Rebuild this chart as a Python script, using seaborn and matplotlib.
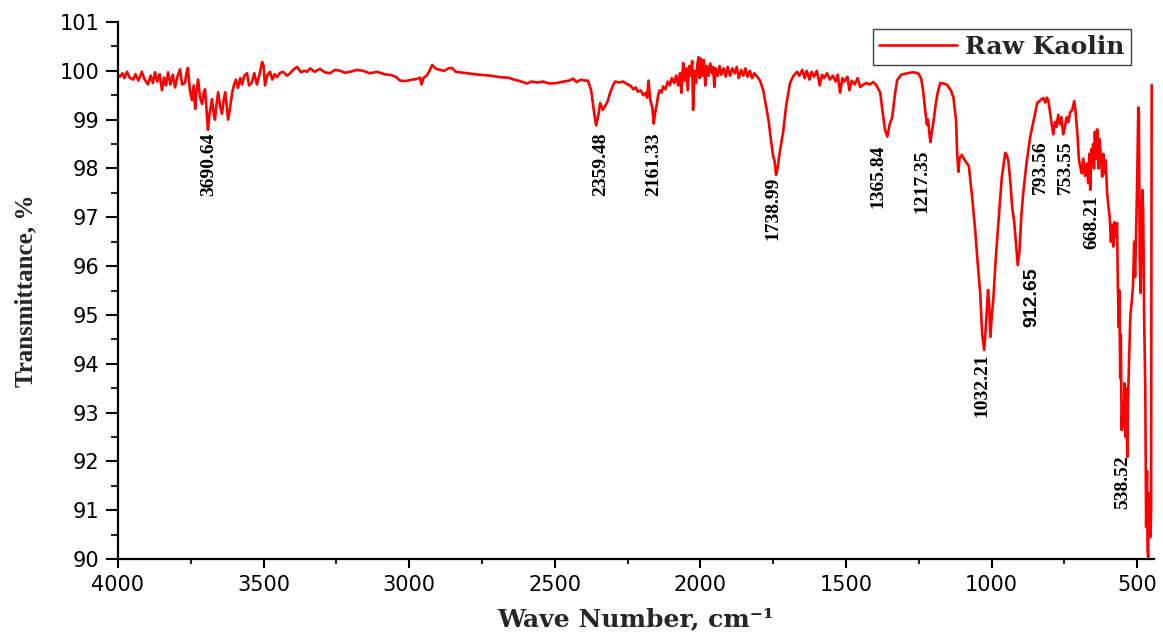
import matplotlib
matplotlib.use("Agg")
import matplotlib.pyplot as plt
import numpy as np
import pandas as pd
import seaborn as sns
from matplotlib.ticker import MultipleLocator

# ---------------- data ----------------
wavenumber = [
    4000, 3993, 3985, 3978, 3969, 3960, 3948, 3940, 3930, 3918, 3910, 3897, 3888, 3880,
    3873, 3865, 3857, 3849, 3842, 3835, 3828, 3820, 3812, 3804, 3796, 3787, 3780, 3770,
    3765, 3760, 3753, 3746, 3740, 3735, 3730, 3725, 3718, 3711, 3706, 3701, 3696, 3691,
    3686, 3682, 3677, 3672, 3667, 3662, 3656, 3650, 3643, 3637, 3632, 3627, 3622, 3616,
    3608, 3602, 3595, 3588, 3580, 3574, 3566, 3557, 3550, 3540, 3532, 3523, 3515, 3505,
    3500, 3495, 3488, 3478, 3470, 3462, 3454, 3445, 3433, 3420, 3409, 3397, 3385, 3372,
    3360, 3351, 3340, 3325, 3306, 3290, 3272, 3255, 3237, 3220, 3203, 3180, 3158, 3135,
    3110, 3085, 3059, 3045, 3031, 3015, 3004, 2990, 2975, 2962, 2958, 2950, 2940, 2930,
    2921, 2910, 2895, 2880, 2865, 2853, 2840, 2800, 2760, 2720, 2688, 2660, 2640, 2620,
    2595, 2580, 2560, 2540, 2520, 2492, 2470, 2450, 2437, 2425, 2410, 2398, 2386, 2375,
    2365, 2358, 2350, 2344, 2335, 2325, 2318, 2310, 2300, 2293, 2280, 2265, 2250, 2241,
    2230, 2222, 2214, 2205, 2196, 2188, 2183, 2178, 2172, 2165, 2160, 2155, 2150, 2145,
    2140, 2133, 2128, 2120, 2112, 2105, 2098, 2090, 2083, 2076, 2070, 2065, 2059, 2054,
    2048, 2043, 2038, 2033, 2028, 2025, 2020, 2015, 2010, 2006, 2002, 1998, 1993, 1988,
    1983, 1978, 1972, 1966, 1960, 1956, 1952, 1947, 1940, 1934, 1928, 1920, 1913, 1906,
    1898, 1890, 1882, 1875, 1868, 1860, 1852, 1845, 1838, 1830, 1822, 1815, 1805, 1795,
    1784, 1775, 1765, 1758, 1750, 1745, 1740, 1735, 1728, 1720, 1716, 1705, 1692, 1680,
    1668, 1660, 1650, 1642, 1635, 1625, 1618, 1610, 1600, 1590, 1582, 1575, 1565, 1555,
    1545, 1535, 1528, 1520, 1512, 1505, 1495, 1488, 1480, 1470, 1460, 1451, 1440, 1430,
    1418, 1406, 1395, 1382, 1375, 1366, 1358, 1350, 1341, 1332, 1324, 1310, 1290, 1270,
    1252, 1242, 1235, 1228, 1222, 1218, 1214, 1210, 1205, 1200, 1192, 1185, 1176, 1165,
    1152, 1140, 1131, 1122, 1118, 1114, 1110, 1102, 1090, 1078, 1068, 1057, 1048, 1039,
    1032, 1025, 1018, 1012, 1008, 1004, 999, 994, 985, 975, 965, 953, 948, 942,
    935, 929, 922, 915, 910, 904, 898, 891, 880, 867, 855, 843, 835, 828,
    822, 815, 810, 805, 798, 792, 788, 782, 777, 771, 765, 760, 754, 748,
    742, 736, 730, 723, 716, 712, 705, 700, 696, 690, 685, 679, 673, 668,
    664, 661, 657, 654, 651, 648, 645, 641, 637, 633, 629, 625, 620, 616,
    612, 608, 603, 598, 594, 590, 586, 582, 578, 574, 569, 566, 563, 561,
    558, 556, 553, 550, 547, 543, 540, 537, 534, 531, 527, 523, 518, 514,
    510, 507, 503, 499, 496, 494, 491, 488, 485, 482, 479, 476, 472, 469,
    466, 464, 462, 460, 457, 454, 452, 450,
]
transmittance = [
    99.90, 99.88, 99.95, 99.85, 99.98, 99.86, 99.82, 99.93, 99.80, 99.98, 99.84, 99.72, 99.90, 99.75,
    99.97, 99.78, 99.93, 99.60, 99.86, 99.70, 99.97, 99.72, 99.92, 99.66, 99.88, 100.03, 99.72, 99.75,
    99.95, 100.06, 99.60, 99.40, 99.70, 99.22, 99.60, 99.82, 99.45, 99.32, 99.55, 99.62, 99.20, 98.79,
    99.10, 99.25, 99.42, 99.15, 99.00, 99.30, 99.56, 99.30, 99.12, 99.40, 99.56, 99.30, 99.00, 99.20,
    99.55, 99.70, 99.82, 99.65, 99.85, 99.72, 99.90, 99.95, 99.70, 99.76, 99.95, 99.72, 99.90, 100.18,
    100.10, 99.70, 99.90, 99.98, 99.82, 99.93, 99.87, 99.95, 99.98, 99.90, 99.95, 100.03, 100.08, 99.97,
    100.00, 99.98, 100.05, 99.98, 100.04, 99.97, 99.95, 100.02, 100.00, 99.96, 99.98, 100.02, 100.00, 99.95,
    99.98, 99.93, 99.91, 99.87, 99.80, 99.79, 99.80, 99.82, 99.83, 99.86, 99.72, 99.86, 99.90, 100.00,
    100.12, 100.05, 100.02, 100.00, 100.05, 100.06, 99.98, 99.95, 99.92, 99.90, 99.87, 99.86, 99.82, 99.79,
    99.74, 99.78, 99.76, 99.78, 99.74, 99.75, 99.78, 99.80, 99.84, 99.77, 99.82, 99.80, 99.80, 99.60,
    99.15, 98.88, 99.10, 99.34, 99.20, 99.30, 99.38, 99.55, 99.70, 99.78, 99.76, 99.78, 99.72, 99.70,
    99.62, 99.66, 99.57, 99.60, 99.50, 99.55, 99.45, 99.80, 99.40, 99.25, 98.92, 99.15, 99.30, 99.50,
    99.60, 99.55, 99.68, 99.62, 99.78, 99.70, 99.85, 99.75, 99.90, 99.70, 99.95, 99.55, 100.16, 99.80,
    100.05, 99.60, 100.10, 99.90, 100.20, 99.20, 100.00, 99.75, 100.15, 100.28, 99.85, 100.25, 99.90, 100.22,
    99.70, 100.10, 99.90, 100.15, 99.95, 100.08, 99.67, 100.05, 99.90, 100.10, 99.92, 100.05, 99.88, 100.08,
    99.90, 100.05, 99.95, 100.08, 99.85, 100.02, 99.90, 100.05, 99.88, 100.00, 99.85, 99.95, 99.88, 99.80,
    99.60, 99.30, 98.95, 98.60, 98.25, 98.15, 97.87, 98.00, 98.30, 98.60, 98.73, 99.30, 99.75, 99.90,
    99.98, 99.90, 100.02, 99.85, 100.00, 99.82, 99.98, 99.88, 100.00, 99.70, 99.92, 99.85, 99.95, 99.82,
    99.90, 99.78, 99.92, 99.55, 99.85, 99.78, 99.88, 99.60, 99.80, 99.72, 99.85, 99.67, 99.72, 99.75,
    99.72, 99.77, 99.70, 99.55, 99.20, 98.80, 98.65, 98.90, 99.05, 99.50, 99.81, 99.92, 99.95, 99.97,
    99.95, 99.85, 99.60, 99.20, 98.90, 99.00, 98.75, 98.54, 98.75, 98.93, 99.30, 99.55, 99.75, 99.74,
    99.71, 99.60, 99.46, 99.00, 98.30, 97.93, 98.20, 98.28, 98.15, 98.05, 97.50, 96.80, 96.10, 95.45,
    94.60, 94.28, 94.90, 95.51, 95.20, 94.55, 95.00, 95.30, 96.20, 97.00, 97.80, 98.32, 98.28, 98.15,
    97.70, 97.20, 96.90, 96.40, 96.02, 96.30, 97.00, 97.50, 98.10, 98.65, 99.00, 99.34, 99.38, 99.42,
    99.44, 99.35, 99.45, 99.40, 99.10, 98.85, 98.70, 98.95, 98.85, 99.10, 98.90, 99.05, 98.70, 98.85,
    99.05, 98.95, 99.15, 99.20, 99.38, 99.20, 98.70, 98.20, 98.05, 97.90, 98.20, 97.85, 98.10, 97.70,
    98.30, 97.56, 98.40, 98.10, 98.50, 98.00, 98.75, 98.20, 98.80, 98.00, 98.60, 98.30, 97.83, 98.30,
    97.90, 98.17, 97.50, 97.20, 97.00, 96.50, 96.85, 96.40, 96.90, 96.60, 96.88, 95.60, 94.75, 95.50,
    93.70, 94.60, 92.64, 93.20, 92.70, 93.60, 92.50, 93.50, 92.09, 93.30, 94.20, 95.00, 95.30, 95.60,
    96.50, 95.78, 96.80, 98.00, 99.25, 99.15, 96.20, 95.45, 96.80, 97.56, 97.10, 95.00, 93.50, 90.66,
    91.80, 90.20, 90.04, 91.35, 91.00, 90.45, 91.00, 99.71,
]
series_name = "Raw Kaolin"

peak_labels = ["3690.64", "2359.48", "2161.33", "1738.99", "1365.84", "1217.35",
               "1032.21", "912.65", "793.56", "753.55", "668.21", "538.52"]
# label anchor (x centre, top y) in data units
label_x = [3687, 2344, 2162, 1750, 1389, 1238, 1032, 860, 833, 747, 654, 551]
label_top = [98.73, 98.73, 98.73, 97.83, 98.48, 98.38, 94.22, 95.98, 98.58, 98.58, 97.46, 92.13]

x_ticks = [4000, 3500, 3000, 2500, 2000, 1500, 1000, 500]
y_ticks = list(range(90, 102))

# ---------------- plot ----------------
sns.set_style("ticks")
plt.rcParams["font.family"] = ["DejaVu Sans"]

fig = plt.figure(figsize=(11.63, 6.34), dpi=100)
W, H = 1163, 634
ax = fig.add_axes([118 / W, 1 - 559 / H, (1154 - 118) / W, (559 - 22) / H])

df = pd.DataFrame({"wn": wavenumber, "T": transmittance, "sample": series_name})
sns.lineplot(data=df, x="wn", y="T", hue="sample", palette=["#ff0000"],
             sort=False, estimator=None, linewidth=1.9, ax=ax)

ax.set_xlim(4000, 442)
ax.set_ylim(90, 101)
ax.set_xticks(x_ticks)
ax.set_yticks(y_ticks)
ax.xaxis.set_minor_locator(MultipleLocator(250))
ax.yaxis.set_minor_locator(MultipleLocator(0.5))

for s in ["top", "right"]:
    ax.spines[s].set_visible(False)
for s in ["left", "bottom"]:
    ax.spines[s].set_linewidth(1.6)
    ax.spines[s].set_color("black")

ax.tick_params(axis="x", which="major", direction="out", length=6.5, width=1.5,
               labelsize=15, pad=5, colors="black")
ax.tick_params(axis="x", which="minor", direction="out", length=3.5, width=1.5)
ax.tick_params(axis="y", which="major", direction="out", length=8.5, width=1.5,
               labelsize=15, pad=5, colors="black")
ax.tick_params(axis="y", which="minor", direction="out", length=5, width=1.5)

ax.set_xlabel("Wave Number, cm\u207b\u00b9", fontsize=18, fontweight="bold",
              family="DejaVu Serif", labelpad=9)
ax.set_ylabel("Transmittance, %", fontsize=18, fontweight="bold",
              family="Liberation Serif", labelpad=16)

for lab, lx, ly in zip(peak_labels, label_x, label_top):
    if lab == "912.65":
        ax.text(lx, ly, lab, rotation=90, ha="center", va="top", fontsize=14,
                family="Liberation Sans", fontweight="bold", color="black")
    else:
        ax.text(lx, ly, lab, rotation=90, ha="center", va="top", fontsize=14,
                family="Liberation Serif", fontweight="bold", color="black")

leg = ax.legend(loc="upper right", bbox_to_anchor=(0.978, 0.987), borderaxespad=0,
                frameon=True, fancybox=False, framealpha=1, edgecolor="#404040",
                handlelength=3.1, handletextpad=0.35, borderpad=0.25,
                prop={"family": "DejaVu Serif", "weight": "bold", "size": 18})
leg.get_frame().set_linewidth(1.0)
for line in leg.get_lines():
    line.set_linewidth(1.9)

fig.savefig("out.png", dpi=100)
